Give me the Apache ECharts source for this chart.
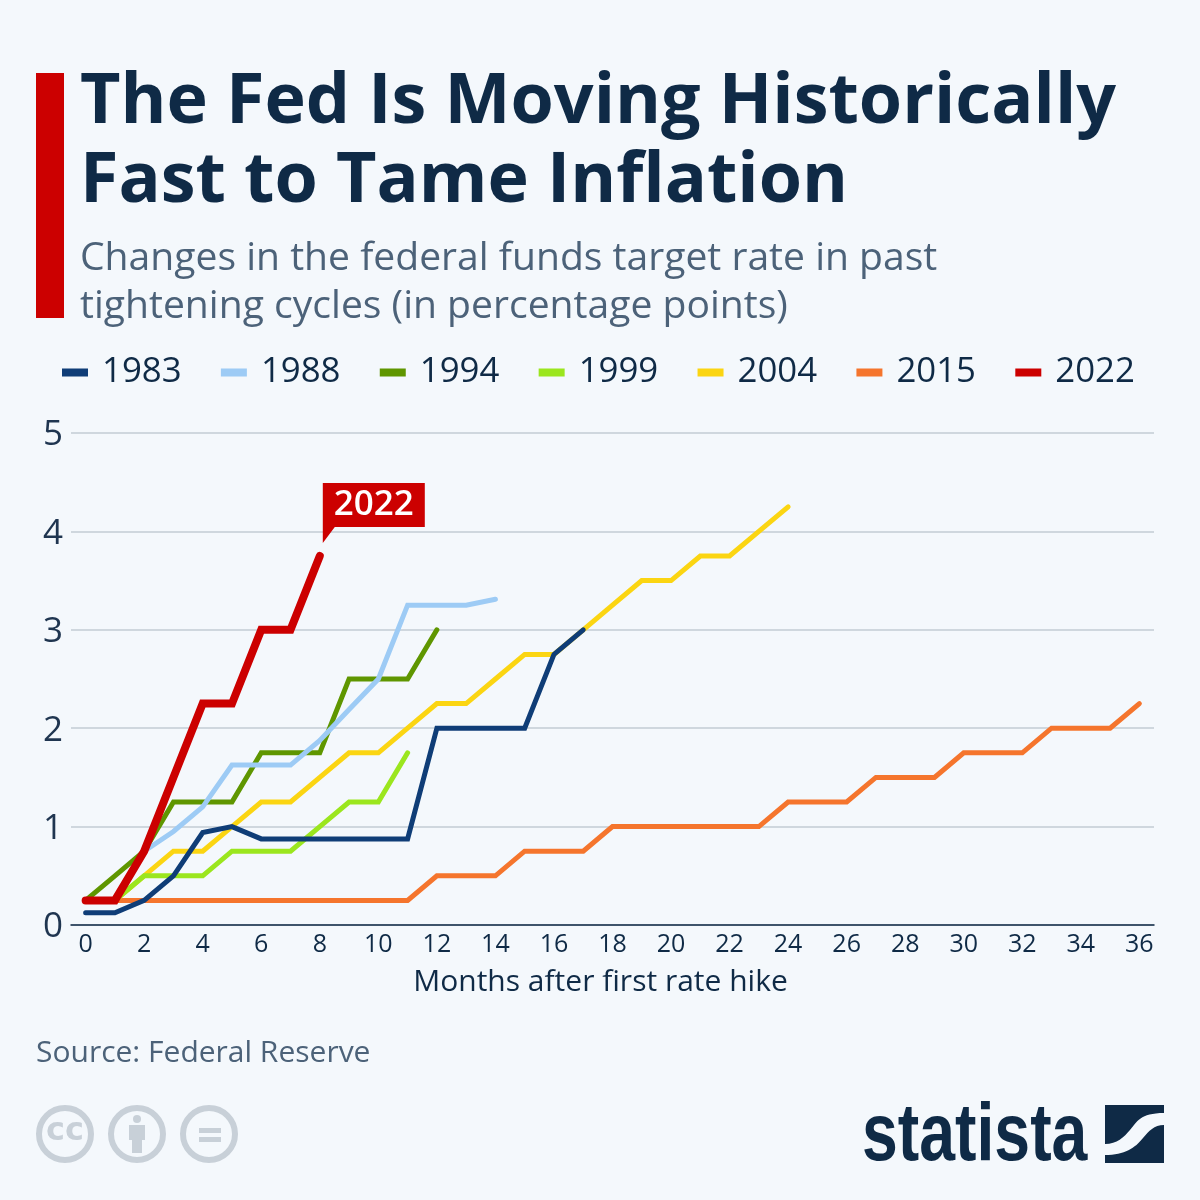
<!DOCTYPE html>
<html><head><meta charset="utf-8">
<style>html,body{margin:0;padding:0;background:#f4f8fc}#c{width:1200px;height:1200px}</style>
<script src="https://cdn.jsdelivr.net/npm/echarts@6/dist/echarts.min.js"></script>
</head><body><div id="c"></div>
<script>
const months = Array.from({length:37},(_,i)=>String(i));
const s1983 = [0.125,0.125,0.25,0.5,0.94,1,0.875,0.875,0.875,0.875,0.875,0.875,2,2,2,2,2.75,3];
const s1988 = [null,null,0.75,0.95,1.2,1.625,1.625,1.625,1.875,2.19,2.5,3.25,3.25,3.25,3.31];
const s1994 = [0.25,0.5,0.75,1.25,1.25,1.25,1.75,1.75,1.75,2.5,2.5,2.5,3];
const s1999 = [0.25,0.25,0.5,0.5,0.5,0.75,0.75,0.75,1,1.25,1.25,1.75];
const s2004 = [0.25,0.25,0.5,0.75,0.75,1,1.25,1.25,1.5,1.75,1.75,2,2.25,2.25,2.5,2.75,2.75,3,3.25,3.5,3.5,3.75,3.75,4,4.25];
const s2015 = [0.25,0.25,0.25,0.25,0.25,0.25,0.25,0.25,0.25,0.25,0.25,0.25,0.5,0.5,0.5,0.75,0.75,0.75,1,1,1,1,1,1,1.25,1.25,1.25,1.5,1.5,1.5,1.75,1.75,1.75,2,2,2,2.25];
const s2022 = [0.25,0.25,0.75,1.5,2.25,2.25,3,3,3.75];
const titleLines = ['The Fed Is Moving Historically','Fast to Tame Inflation'];
const subtitleLines = ['Changes in the federal funds target rate in past','tightening cycles (in percentage points)'];
const F = '"Open Sans"';
const ink = '#0f2a46';
const logoSvg = '<svg xmlns="http://www.w3.org/2000/svg" width="59" height="58" viewBox="0 0 59 58"><path fill="#0f2a46" d="M0 0H59V8C35 8 32 17 25 25C19 32 12 39 0 39Z M59 20V58H0V50C20 50 30 43 38 33C44 26 49 20 59 20Z"/></svg>';
const line = (name,data,color,z,width=5)=>({name,type:'line',data,z,symbol:'none',showSymbol:false,
  animation:false,silent:true,itemStyle:{color},lineStyle:{color,width,cap:'round',join:'miter'}});
const chart = echarts.init(document.getElementById('c'),null,{renderer:'canvas'});
const red = line('2022',s2022,'#cc0000',9,8);
red.markPoint = {silent:true,animation:false,data:[{coord:['8',3.75],symbol:'path://M0 0H102V44H12L0 60Z',
  symbolSize:[102,60],symbolKeepAspect:false,symbolOffset:[54,-43],itemStyle:{color:'#cc0000'},
  label:{show:true,position:'inside',offset:[0,-8],formatter:'2022',fontFamily:F,fontSize:35,fontWeight:600,color:'#fff'}}]};
chart.setOption({
  backgroundColor:'#f4f8fc',animation:false,
  title:[
    {text:titleLines.join('\n'),left:80,top:64,padding:0,textStyle:{fontFamily:F,fontWeight:700,fontSize:70,lineHeight:79,color:ink}},
    {text:subtitleLines.join('\n'),left:80,top:235,padding:0,textStyle:{fontFamily:F,fontWeight:400,fontSize:39.1,lineHeight:48,color:'#4c6279'}},
    {text:'Source: Federal Reserve',left:36,top:1038,padding:0,textStyle:{fontFamily:F,fontWeight:400,fontSize:30,color:'#4c6279'}}
  ],
  legend:{left:62,top:355,padding:0,itemWidth:26,itemHeight:8,itemGap:39.3,icon:'rect',selectedMode:false,
    data:['1983','1988','1994','1999','2004','2015','2022'],
    textStyle:{fontFamily:F,fontSize:34.8,color:ink,padding:[0,0,0,9]}},
  grid:{left:71,right:46,top:433,height:492,containLabel:false},
  xAxis:{type:'category',data:months,boundaryGap:true,
    axisLine:{lineStyle:{color:ink,width:1.5}},axisTick:{show:false},
    axisLabel:{interval:1,fontFamily:F,fontSize:25,color:ink,margin:7},
    name:'Months after first rate hike',nameLocation:'middle',nameGap:42,
    nameTextStyle:{fontFamily:F,fontSize:30,color:ink,padding:[0,24,0,0]}},
  yAxis:{type:'value',min:0,max:5,interval:1,
    axisLine:{show:false},axisTick:{show:false},
    axisLabel:{fontFamily:F,fontSize:35,color:'#1f3550',margin:8,formatter:'{v|{value}}',
      rich:{v:{fontFamily:F,fontSize:35,color:'#1f3550',padding:[5,0,0,0]}}},
    splitLine:{lineStyle:{color:'#c3ccd5',width:1.5}}},
  series:[line('1983',s1983,'#0f3d77',7),line('1988',s1988,'#9dcbf5',6),line('1994',s1994,'#5f9600',5),
    line('1999',s1999,'#9be61e',4),line('2004',s2004,'#fbd512',3),line('2015',s2015,'#f5752d',2),red],
  graphic:[
    {type:'rect',shape:{x:36,y:73,width:28,height:245},style:{fill:'#cc0000'}},
    {type:'circle',shape:{cx:65,cy:1134,r:26},style:{fill:'none',stroke:'#c8d0d8',lineWidth:6}},
    {type:'text',x:65,y:1132,style:{text:'cc',fontFamily:'"DejaVu Sans"',fontWeight:700,fontSize:32,fill:'#c8d0d8',align:'center',verticalAlign:'middle'}},
    {type:'circle',shape:{cx:137,cy:1134,r:26},style:{fill:'none',stroke:'#c8d0d8',lineWidth:6}},
    {type:'circle',shape:{cx:137,cy:1119,r:4},style:{fill:'#c8d0d8'}},
    {type:'polygon',shape:{points:[[129,1125],[145,1125],[145,1140],[142,1140],[142,1153],[132,1153],[132,1140],[129,1140]]},style:{fill:'#c8d0d8'}},
    {type:'circle',shape:{cx:209,cy:1134,r:26},style:{fill:'none',stroke:'#c8d0d8',lineWidth:6}},
    {type:'rect',shape:{x:199,y:1128,width:22,height:5},style:{fill:'#c8d0d8'}},
    {type:'rect',shape:{x:199,y:1137,width:22,height:5},style:{fill:'#c8d0d8'}},
    {type:'text',x:862,y:1137,scaleX:0.785,style:{text:'statista',fontFamily:'"Liberation Sans"',fontWeight:700,fontSize:82,fill:ink,verticalAlign:'middle',align:'left'}},
    {type:'image',x:1105,y:1105,style:{image:'data:image/svg+xml;charset=utf-8,'+encodeURIComponent(logoSvg),x:0,y:0,width:59,height:58}}
  ]
});
</script></body></html>
